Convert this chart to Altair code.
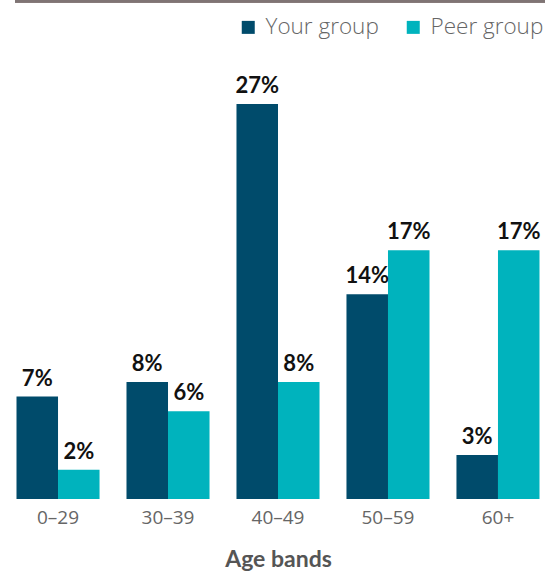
import altair as alt
import pandas as pd

age_bands = ["0–29", "30–39", "40–49", "50–59", "60+"]
your_group = [7, 8, 27, 14, 3]
peer_group = [2, 6, 8, 17, 17]
series = ["Your group", "Peer group"]
colors = ["#004b6b", "#00b3bd"]

rows = []
for i, band in enumerate(age_bands):
    rows.append({"band": band, "series": series[0], "value": your_group[i], "label": f"{your_group[i]}%"})
    rows.append({"band": band, "series": series[1], "value": peer_group[i], "label": f"{peer_group[i]}%"})
df = pd.DataFrame(rows)

x = alt.X("band:N", sort=age_bands,
          scale=alt.Scale(paddingInner=0.245, paddingOuter=0.15),
          axis=alt.Axis(title="Age bands", labelAngle=0, domain=False, ticks=False,
                        labelFont="Open Sans", labelFontSize=19, labelColor="#666666",
                        labelPadding=9, titleFont="Lato", titleFontSize=23,
                        titleFontWeight="bold", titleColor="#555555", titlePadding=21))
y = alt.Y("value:Q", scale=alt.Scale(domain=[0, 34.1], nice=False, zero=True), axis=None)
xoff = alt.XOffset("series:N", sort=series, scale=alt.Scale(paddingInner=0, paddingOuter=0))

base = alt.Chart(df).encode(x=x, xOffset=xoff, y=y)

bars = base.mark_bar().encode(
    color=alt.Color("series:N", sort=series,
                    scale=alt.Scale(domain=series, range=colors),
                    legend=alt.Legend(title=None, orient="none", legendX=237, legendY=16,
                                      direction="horizontal", symbolType="square",
                                      symbolSize=169, symbolStrokeWidth=0,
                                      labelFont="Open Sans", labelFontSize=22.5,
                                      labelFontWeight=300, labelColor="#666666",
                                      columnPadding=23, labelOffset=6))
)

labels = base.mark_text(baseline="alphabetic", dy=-11, font="Lato", fontSize=22,
                        fontWeight="bold", color="#111111").encode(text="label:N")

top_rule = alt.Chart(df).mark_rule(color="#7f7474", strokeWidth=2.5).encode(
    x=alt.value(15), x2=alt.value(545), y=alt.value(1)
)

chart = alt.layer(bars, labels, top_rule).properties(
    width=556, height=499,
    autosize=alt.AutoSizeParams(type="none"),
    padding={"left": 0, "top": 0, "right": 0, "bottom": 74},
).configure_view(stroke=None)

chart.save("out.html", embed_options={"renderer": "svg", "actions": False})
